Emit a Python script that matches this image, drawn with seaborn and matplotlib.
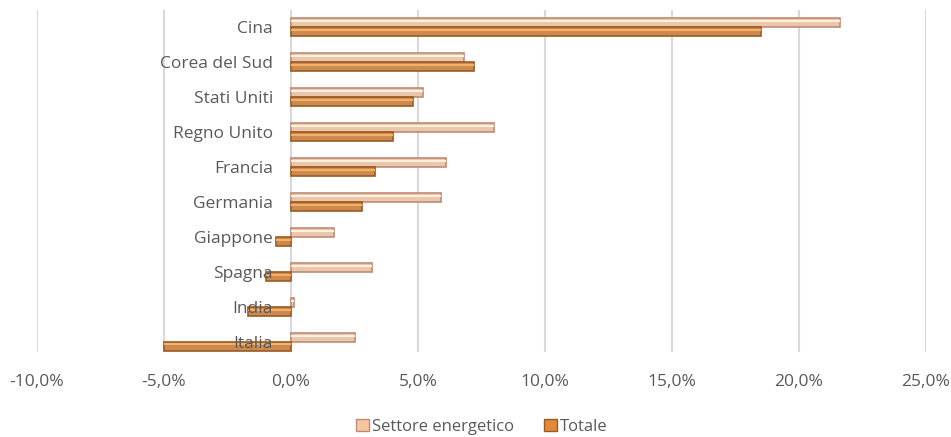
import matplotlib
matplotlib.use("Agg")
import matplotlib.pyplot as plt
from matplotlib.patches import Patch
from matplotlib.ticker import FuncFormatter
from matplotlib.transforms import offset_copy
import seaborn as sns
import pandas as pd

paesi = ["Cina", "Corea del Sud", "Stati Uniti", "Regno Unito", "Francia",
         "Germania", "Giappone", "Spagna", "India", "Italia"]
settore_energetico = [21.6, 6.8, 5.2, 8.0, 6.1, 5.9, 1.7, 3.2, 0.1, 2.5]
totale = [18.5, 7.2, 4.8, 4.0, 3.3, 2.8, -0.6, -1.0, -1.7, -5.0]
serie = ["Settore energetico", "Totale"]
x_ticks = [-10, -5, 0, 5, 10, 15, 20, 25]

df = pd.DataFrame({
    "Paese": paesi * 2,
    "Serie": [serie[0]] * len(paesi) + [serie[1]] * len(paesi),
    "Valore": settore_energetico + totale,
})

sns.set_theme(style="white")
plt.rcParams["font.family"] = ["Open Sans", "DejaVu Sans"]

face = {serie[0]: "#F5C6A0", serie[1]: "#E0893A"}
edge = {serie[0]: "#C08A78", serie[1]: "#9A5A22"}
grey_text = "#595959"

fig = plt.figure(figsize=(9.51, 4.37), dpi=100)
ax = fig.add_axes([37 / 951, 1 - 352 / 437, (926 - 37) / 951, (352 - 10) / 437])

sns.barplot(data=df, y="Paese", x="Valore", hue="Serie", order=paesi,
            hue_order=serie, palette=face, orient="h", width=0.5,
            legend=False, ax=ax, zorder=3)

# edges and a light highlight for a bevelled look
for container, name in zip(ax.containers, serie):
    for bar in container:
        bar.set_edgecolor(edge[name])
        bar.set_linewidth(1.2)
        x0, y0 = bar.get_x(), bar.get_y()
        w, h = bar.get_width(), bar.get_height()
        ax.plot([x0, x0 + w], [y0 + h * 0.3, y0 + h * 0.3],
                color="#FFF1DC" if name == serie[0] else "#F5B066",
                lw=1.5, solid_capstyle="butt", zorder=4)

ax.set_xlim(-10, 25)
ax.set_ylim(9 + 0.29, -0.49)
ax.set_xticks(x_ticks)
ax.xaxis.set_major_formatter(FuncFormatter(lambda v, _: f"{v:.1f}%".replace(".", ",")))
ax.grid(axis="x", color="#D9D9D9", lw=1.5, zorder=0)
ax.grid(axis="y", visible=False)
for s in ax.spines.values():
    s.set_visible(False)

ax.tick_params(axis="x", length=0, pad=16, labelsize=12.5, labelcolor=grey_text)
ax.set_yticks([])
ax.set_xlabel("")
ax.set_ylabel("")

# category labels sit just left of the zero line, above the bars
lab_tr = offset_copy(ax.transData, fig=fig, x=-18, y=-2, units="dots")
for i, p in enumerate(paesi):
    ax.text(0, i, p, transform=lab_tr, ha="right", va="center",
            fontsize=12.5, color=grey_text, zorder=6)

handles = [Patch(facecolor=face[n], edgecolor=edge[n], label=n) for n in serie]
fig.legend(handles=handles, loc="center", bbox_to_anchor=(482 / 951, 1 - 427 / 437),
           ncol=2, frameon=False, fontsize=12, handlelength=0.75, handleheight=0.75,
           handletextpad=0.2, columnspacing=1.8, labelcolor=grey_text)

fig.savefig("out.png", dpi=100)
